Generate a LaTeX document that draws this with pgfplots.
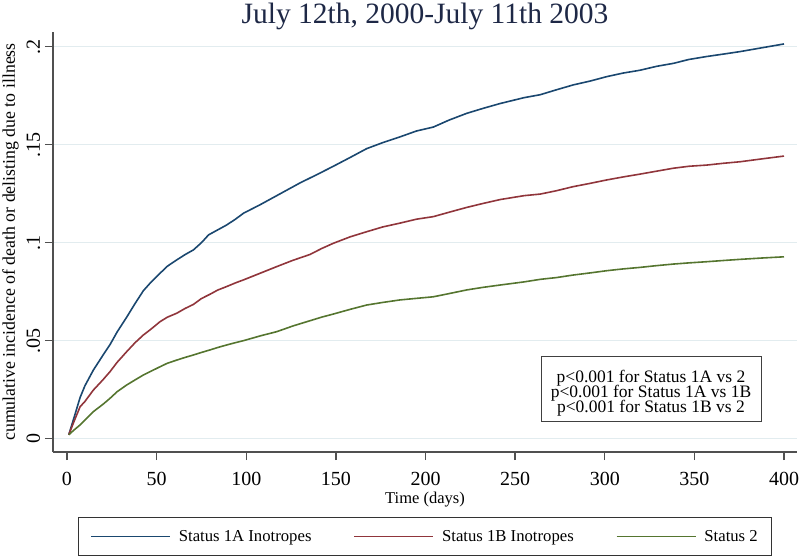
\documentclass[border=0pt]{standalone}
\usepackage{fontspec}
\setmainfont{Liberation Serif}
\usepackage{pgfplots}
\pgfplotsset{compat=1.18}
\definecolor{sNavy}{RGB}{26,71,111}
\definecolor{sMaroon}{RGB}{144,53,59}
\definecolor{sGreen}{RGB}{85,117,47}
\definecolor{sGrid}{RGB}{226,236,239}
\definecolor{sTitle}{RGB}{30,40,70}
\definecolor{sAxis}{RGB}{80,80,80}
\begin{document}
\begin{tikzpicture}
\begin{axis}[
  at={(0,0)}, anchor=south west,
  scale only axis, width=744bp, height=420bp,
  xmin=-7.81, xmax=407.25, ymin=-0.00679, ymax=0.2075,
  axis x line*=bottom, axis y line*=left,
  axis line style={sAxis, line width=1.3bp},
  tick align=outside, major tick length=8bp,
  tick style={sAxis, line width=1.3bp},
  xtick={0,50,...,400},
  ytick={0,0.05,0.1,0.15,0.2},
  yticklabels={0,.05,.1,.15,.2},
  /pgf/number format/assume math mode=true,
  ticklabel style={font=\fontsize{20bp}{24bp}\selectfont},
  xticklabel style={yshift=-9bp},
  yticklabel style={rotate=90, anchor=base, yshift=5bp},
  ymajorgrids, grid style={sGrid, line width=1.2bp},
  title={July 12th, 2000-July 11th 2003},
  title style={at={(0.5,1)}, anchor=base, yshift=3bp, text=sTitle,
    font=\fontsize{29.5bp}{32bp}\selectfont},
  xlabel={Time (days)},
  xlabel style={at={(0.5,0)}, anchor=base, yshift=-51bp,
    font=\fontsize{16.5bp}{20bp}\selectfont},
  ylabel={cumulative incidence of death or delisting due to illness},
  ylabel style={at={(0,0.5)}, anchor=base, yshift=38bp,
    font=\fontsize{17.8bp}{20bp}\selectfont},
  legend columns=3,
  legend style={at={(0.5,-0.2012)}, anchor=center, draw=black!80, line width=1bp,
    font=\fontsize{16.7bp}{20bp}\selectfont, inner xsep=12bp, inner ysep=11bp,
    /tikz/every odd column/.append style={column sep=6bp},
    /tikz/every even column/.append style={column sep=40bp}},
  legend image code/.code={\draw[#1] (0bp,0bp) -- (79bp,0bp);},
]
\addplot[sNavy, line width=1.6bp] coordinates {
(1,0.002) (4,0.011) (7.3,0.021) (10,0.027) (14.7,0.035) (20,0.0425) (24,0.048) (28,0.0545) (33.3,0.062) (38,0.069) (42.6,0.0755) (47,0.080) (51.9,0.0844) (56,0.088) (61.2,0.0912) (66,0.094) (70.5,0.0963) (75,0.100) (79,0.104) (84,0.1065) (89,0.109) (94,0.112) (98.4,0.115) (108,0.1195) (117,0.124) (126,0.1285) (130,0.1305) (140,0.135) (148.6,0.139) (158,0.1435) (167.2,0.148) (176,0.151) (185.8,0.154) (195,0.157) (204.4,0.159) (213,0.1625) (223,0.166) (232,0.1685) (241.6,0.171) (255,0.174) (264,0.1755) (273,0.178) (282.4,0.1805) (292,0.1825) (301,0.1847) (310,0.1865) (319.7,0.188) (329,0.19) (338.3,0.1915) (347,0.1935) (356.9,0.195) (366,0.1962) (375.5,0.1975) (388,0.1995) (400,0.2014)
};
\addlegendentry{Status 1A Inotropes}
\addplot[sMaroon, line width=1.6bp] coordinates {
(1,0.002) (4,0.009) (7.3,0.0163) (10,0.019) (14.7,0.0248) (20,0.030) (24,0.0342) (28,0.039) (33.3,0.0444) (38,0.049) (42.6,0.0529) (47,0.056) (51.9,0.0597) (56,0.062) (61.2,0.064) (66,0.0665) (70.5,0.0685) (75,0.0715) (79.8,0.0737) (84,0.0758) (89,0.0776) (94,0.0795) (98.4,0.081) (108,0.0845) (117,0.0878) (126,0.091) (135.6,0.094) (142,0.097) (148.6,0.0997) (158,0.103) (167.2,0.1056) (176,0.108) (185.8,0.110) (195,0.112) (204.4,0.1133) (213,0.1155) (223,0.118) (232,0.120) (241.6,0.122) (255,0.124) (264,0.1248) (273,0.1265) (282.4,0.1286) (292,0.1303) (301,0.132) (310,0.1335) (319.7,0.135) (329,0.1365) (338.3,0.138) (347,0.139) (356.9,0.1396) (366,0.1405) (375.5,0.1413) (388,0.1428) (400,0.1442)
};
\addlegendentry{Status 1B Inotropes}
\addplot[sGreen, line width=1.6bp] coordinates {
(1,0.002) (4,0.0045) (7.3,0.007) (10,0.0095) (14.7,0.0138) (20,0.0175) (24,0.0206) (28,0.024) (33.3,0.0274) (38,0.030) (42.6,0.0325) (47,0.0345) (51.9,0.0367) (56,0.0385) (61.2,0.0401) (66,0.0415) (70.5,0.0427) (75,0.044) (79.8,0.0453) (84,0.0465) (89,0.0478) (94,0.049) (98.4,0.050) (108,0.0525) (117,0.0546) (126,0.0575) (135.6,0.0602) (142,0.062) (148.6,0.0636) (158,0.066) (167.2,0.0682) (176,0.0695) (185.8,0.0708) (195,0.0716) (204.4,0.0724) (213,0.074) (223,0.0759) (232,0.0772) (241.6,0.0784) (255,0.080) (264,0.0813) (273,0.0822) (282.4,0.0835) (292,0.0846) (301,0.0857) (310,0.0866) (319.7,0.0874) (329,0.0883) (338.3,0.0891) (347,0.0897) (356.9,0.0903) (366,0.0909) (375.5,0.0915) (388,0.0922) (400,0.0928)
};
\addlegendentry{Status 2}
\node[draw=black!75, line width=1bp, fill=white, minimum width=220bp, minimum height=65bp, inner sep=0pt]
  at (axis cs:325.8,0.0251) {};
\node[align=center, font=\fontsize{17.5bp}{18bp}\selectfont, inner sep=0pt]
  at (axis cs:325.8,0.02337)
  {p<0.001 for Status 1A vs 2\\[-3bp]p<0.001 for Status 1A vs 1B\\[-3bp]p<0.001 for Status 1B vs 2};
\end{axis}
\pgfresetboundingbox
\useasboundingbox (-53bp,-106bp) rectangle (747bp,452bp);
\end{tikzpicture}
\end{document}
